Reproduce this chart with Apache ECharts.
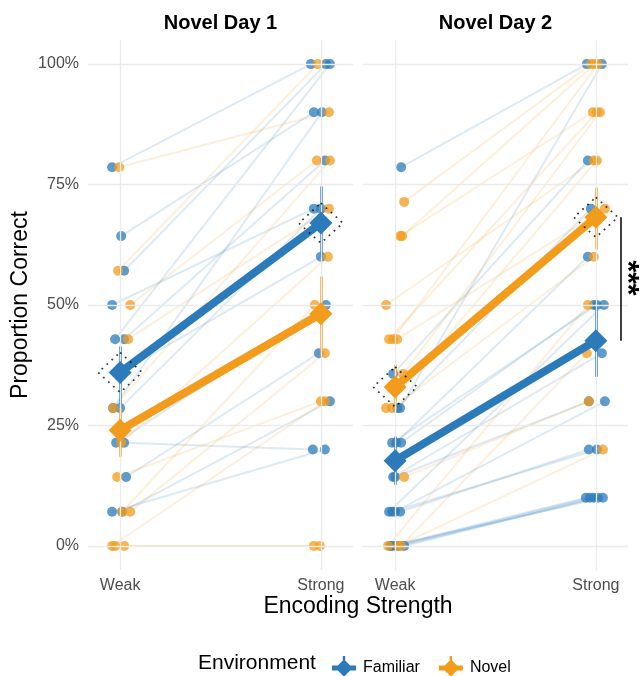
<!DOCTYPE html>
<html><head><meta charset="utf-8">
<script src="https://cdn.jsdelivr.net/npm/echarts@6/dist/echarts.min.js"></script>
<style>html,body{margin:0;padding:0;background:#fff}#c{width:641px;height:676px}</style>
</head><body><div id="c"></div>
<script>
const panels = ['Novel Day 1', 'Novel Day 2'];
const levels = ['Weak', 'Strong'];
const yTicks = [0, 25, 50, 75, 100];
const envs = ['Familiar', 'Novel'];

// ---- individual participants (percent correct) and horizontal jitter (category units) ----
const d1FamWeak   = [78.6, 64.3, 57.1, 50, 42.9, 42.9, 35.7, 28.6, 28.6, 21.4, 21.4, 14.3, 7.1, 7.1];
const d1FamStrong = [100, 90, 100, 70, 100, 80, 60, 90, 70, 50, 20, 40, 20, 30];
const d1FamJitW   = [-0.04, 0.005, 0.02, -0.04, -0.025, 0.02, -0.01, -0.035, 0, -0.02, 0.02, 0.03, -0.04, 0.01];
const d1FamJitS   = [-0.05, -0.035, 0.025, -0.035, 0.045, 0.02, 0, 0.005, 0, 0.025, -0.04, -0.01, 0.02, 0.045];

const d1NovWeak   = [78.6, 57.1, 50, 42.9, 28.6, 21.4, 14.3, 7.1, 7.1, 0, 0, 0];
const d1NovStrong = [90, 100, 80, 70, 80, 60, 30, 50, 40, 30, 0, 0];
const d1NovJitW   = [-0.005, -0.01, 0.05, 0.04, -0.035, 0.005, -0.015, 0.01, 0.05, -0.04, -0.025, 0.02];
const d1NovJitS   = [0.04, -0.015, -0.02, 0.04, 0.045, 0.035, 0, -0.03, 0.02, 0.02, -0.035, -0.005];

const d2FamWeak   = [78.6, 35.7, 28.6, 28.6, 21.4, 21.4, 21.4, 14.3, 14.3, 7.1, 7.1, 7.1, 7.1, 0, 0, 0, 0, 0];
const d2FamStrong = [100, 80, 70, 100, 60, 50, 50, 40, 30, 50, 30, 20, 20, 10, 10, 10, 10, 10];
const d2FamJitW   = [0.03, -0.01, 0.01, 0.025, 0.005, 0.03, -0.015, -0.01, 0, -0.03, 0, 0.025, -0.015, -0.015, 0.005, 0.045, 0.02, -0.025];
const d2FamJitS   = [-0.045, -0.04, -0.025, 0.03, -0.04, -0.01, 0.005, 0.03, -0.035, 0.04, 0.045, -0.035, 0.005, -0.05, -0.03, -0.01, 0.01, 0.035];

const d2NovWeak   = [71.4, 64.3, 64.3, 50, 42.9, 42.9, 42.9, 35.7, 28.6, 28.6, 14.3, 0, 0, 0];
const d2NovStrong = [100, 90, 100, 80, 90, 100, 70, 90, 80, 60, 30, 50, 40, 20];
const d2NovJitW   = [0.045, 0.025, 0.035, -0.045, -0.03, -0.01, 0.01, 0.04, -0.045, -0.015, 0.045, -0.035, 0.03, 0.015];
const d2NovJitS   = [-0.025, -0.015, -0.005, -0.01, 0.005, 0.01, 0.045, 0.02, 0.005, -0.01, -0.035, -0.04, -0.045, 0.035];

// ---- group means and intervals [Weak, Strong] ----
const d1FamMean = [36.0, 67.0];
const d1FamLo   = [29.5, 59.9];
const d1FamHi   = [41.4, 74.6];
const d1NovMean = [24.0, 48.2];
const d1NovLo   = [18.5, 40.3];
const d1NovHi   = [28.7, 55.9];
const d2FamMean = [17.7, 42.6];
const d2FamLo   = [12.7, 35.1];
const d2FamHi   = [22.7, 49.7];
const d2NovMean = [33.0, 68.2];
const d2NovLo   = [29.3, 61.5];
const d2NovHi   = [37.6, 74.4];

const highlightEnv = ['Familiar', 'Novel'];   // per day: group with dotted outline
const sigLabel = '***';                        // Day 2, Strong: Familiar vs Novel

const colors = { Familiar: '#2B7BBA', Novel: '#F39C1C' };
const FONT = '"Liberation Sans", Arial, Helvetica, sans-serif';

const groups = [
  [
    { env: 'Familiar', weak: d1FamWeak, strong: d1FamStrong, jw: d1FamJitW, js: d1FamJitS, mean: d1FamMean, lo: d1FamLo, hi: d1FamHi },
    { env: 'Novel', weak: d1NovWeak, strong: d1NovStrong, jw: d1NovJitW, js: d1NovJitS, mean: d1NovMean, lo: d1NovLo, hi: d1NovHi }
  ],
  [
    { env: 'Familiar', weak: d2FamWeak, strong: d2FamStrong, jw: d2FamJitW, js: d2FamJitS, mean: d2FamMean, lo: d2FamLo, hi: d2FamHi },
    { env: 'Novel', weak: d2NovWeak, strong: d2NovStrong, jw: d2NovJitW, js: d2NovJitS, mean: d2NovMean, lo: d2NovLo, hi: d2NovHi }
  ]
];

const gridLeft = [88, 363];
const grids = gridLeft.map(l => ({ left: l, top: 40, width: 265, height: 530 }));

const xAxes = [0, 1].map(i => ({
  type: 'value', gridIndex: i, min: 0.84, max: 2.16,
  axisLine: { show: false }, axisTick: { show: false }, splitLine: { show: false },
  axisLabel: { customValues: [1, 2], formatter: v => levels[Math.round(v) - 1] || '', color: '#4d4d4d', fontSize: 16, fontFamily: FONT, margin: 8 }
}));
const yAxes = [0, 1].map(i => ({
  type: 'value', gridIndex: i, min: -5, max: 105,
  axisLine: { show: false }, axisTick: { show: false }, splitLine: { show: false },
  axisLabel: { show: i === 0, customValues: yTicks, formatter: v => v + '%', color: '#4d4d4d', fontSize: 16, fontFamily: FONT, margin: 9 },
  name: i === 0 ? 'Proportion Correct' : '', nameLocation: 'middle', nameGap: 56, nameRotate: 90,
  nameTextStyle: { fontSize: 23, color: '#000', fontFamily: FONT }
}));

const series = [];
[0, 1].forEach(d => {
  // gridlines
  series.push({
    type: 'line', xAxisIndex: d, yAxisIndex: d, data: [], z: 1, silent: true,
    markLine: {
      silent: true, symbol: 'none', label: { show: false }, animation: false,
      lineStyle: { color: '#ebebeb', width: 1.3, type: 'solid' },
      data: yTicks.map(v => ({ yAxis: v })).concat([1, 2].map(v => ({ xAxis: v })))
    }
  });
  groups[d].forEach(g => {
    const col = colors[g.env];
    series.push({
      type: 'lines', coordinateSystem: 'cartesian2d', xAxisIndex: d, yAxisIndex: d, z: 2, silent: true,
      data: g.weak.map((w, i) => ({ coords: [[1 + g.jw[i], w], [2 + g.js[i], g.strong[i]]] })),
      lineStyle: { color: col, width: 2, opacity: 0.16 }
    });
    series.push({
      type: 'scatter', xAxisIndex: d, yAxisIndex: d, z: 3, symbolSize: 10,
      data: g.weak.map((w, i) => [1 + g.jw[i], w]).concat(g.strong.map((s, i) => [2 + g.js[i], s])),
      itemStyle: { color: col, opacity: 0.75 }
    });
  });
  groups[d].forEach(g => {
    const col = colors[g.env];
    series.push({
      type: 'lines', coordinateSystem: 'cartesian2d', xAxisIndex: d, yAxisIndex: d, z: 4, silent: true,
      data: [0, 1].map(k => ({ coords: [[k + 1, g.lo[k]], [k + 1, g.hi[k]]] })),
      lineStyle: { color: col, width: 2.5, opacity: 1 }
    });
  });
  groups[d].forEach(g => {
    const col = colors[g.env];
    series.push({
      type: 'line', name: g.env, xAxisIndex: d, yAxisIndex: d, z: 5,
      data: g.mean.map((m, k) => [k + 1, m]),
      symbol: 'diamond', symbolSize: 23, showSymbol: true,
      lineStyle: { color: col, width: 8 }, itemStyle: { color: col, opacity: 1 }
    });
    if (highlightEnv[d] === g.env) {
      series.push({
        type: 'scatter', xAxisIndex: d, yAxisIndex: d, z: 6, silent: true,
        data: g.mean.map((m, k) => [k + 1, m]), symbol: 'diamond', symbolSize: [44, 40],
        itemStyle: { color: 'rgba(0,0,0,0)', borderColor: '#000', borderWidth: 1.7, borderType: [1.7, 5] }
      });
    }
  });
});
// significance bracket on Day 2, Strong
series.push({
  type: 'line', xAxisIndex: 1, yAxisIndex: 1, data: [], z: 7,
  markLine: {
    silent: true, symbol: 'none', animation: false, label: { show: false },
    lineStyle: { color: '#000', width: 1.5, type: 'solid' },
    data: [[{ coord: [2.125, d2NovMean[1]] }, { coord: [2.125, d2FamMean[1]] }]]
  }
});

const iconPath = 'path://M50,14 L86,50 L50,86 L14,50 Z M0,40 L100,40 L100,60 L0,60 Z M45,0 L55,0 L55,100 L45,100 Z';

const option = {
  animation: false,
  backgroundColor: '#fff',
  grid: grids, xAxis: xAxes, yAxis: yAxes, series: series,
  legend: {
    data: envs.map(e => ({ name: e, icon: iconPath })),
    left: 327, top: 651, itemWidth: 28, itemHeight: 24, itemGap: 19,
    textStyle: { fontSize: 16, color: '#000', fontFamily: FONT }, selectedMode: false
  },
  graphic: [
    { type: 'text', x: 220.5, y: 23, style: { text: panels[0], font: 'bold 20px ' + FONT, fill: '#000', align: 'center', verticalAlign: 'middle' } },
    { type: 'text', x: 495.5, y: 23, style: { text: panels[1], font: 'bold 20px ' + FONT, fill: '#000', align: 'center', verticalAlign: 'middle' } },
    { type: 'text', x: 358, y: 607, style: { text: 'Encoding Strength', font: '23px ' + FONT, fill: '#000', align: 'center', verticalAlign: 'middle' } },
    { type: 'text', x: 198, y: 663, style: { text: 'Environment', font: '21px ' + FONT, fill: '#000', align: 'left', verticalAlign: 'middle' } },
    { type: 'text', x: 627, y: 278, rotation: -Math.PI / 2, style: { text: sigLabel, font: 'bold 30px ' + FONT, fill: '#000', align: 'center', verticalAlign: 'middle' } }
  ]
};
const chart = echarts.init(document.getElementById('c'), null, { renderer: 'canvas' });
chart.setOption(option);
</script>
</body></html>
